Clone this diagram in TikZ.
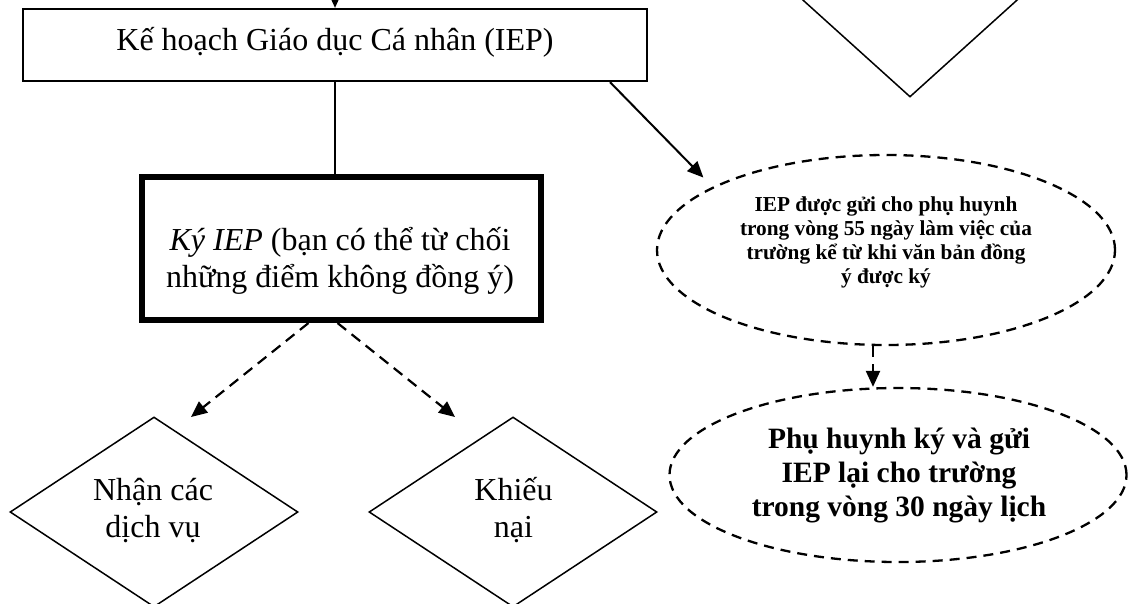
\documentclass[tikz,border=0pt]{standalone}
\usepackage{fontspec}
\setmainfont{Liberation Serif}
\usetikzlibrary{arrows.meta,shapes.geometric}
\begin{document}
\begin{tikzpicture}[x=1pt,y=-1pt,
  box/.style={draw, line width=2.25pt, inner sep=0pt},
  thickbox/.style={draw, line width=6pt, inner sep=0pt},
  dia/.style={draw, diamond, line width=1.5pt, inner sep=0pt},
  dell/.style={draw, ellipse, line width=2.3pt, dash pattern=on 10pt off 7pt, inner sep=0pt},
  arr/.style={line width=2pt, -{Triangle[length=16pt,width=14pt]}},
  darr/.style={line width=2.2pt, dash pattern=on 11pt off 7pt, -{Triangle[length=16pt,width=14pt]}},
  txt/.style={font=\fontsize{32}{37}\selectfont, align=center, inner sep=0pt, anchor=base},
  smallbold/.style={font=\bfseries\fontsize{21.3}{24}\selectfont, align=center, inner sep=0pt, anchor=base},
  bigbold/.style={font=\bfseries\fontsize{29.5}{34}\selectfont, align=center, inner sep=0pt, anchor=base}
]
\useasboundingbox (0,0) rectangle (1129,603);
\clip (0,0) rectangle (1129,603);

% top box
\node[box, minimum width=624pt, minimum height=72pt] (plan) at (335,45) {};
\node[txt] (plantext) at (335,50) {Kế hoạch Giáo dục Cá nhân (IEP)};
\coordinate (topin) at (335,-20);
\draw[arr] (topin) -- (plan.north);

% partially visible diamond at top right
\node[dia, minimum width=288pt, minimum height=260pt] (upper) at (910,-33) {};

% sign box
\node[thickbox, minimum width=399pt, minimum height=143pt] (sign) at (341.5,248.5) {};
\node[txt] (signtext) at (340,287.5) {\textit{Ký IEP} (bạn có thể từ chối\\những điểm không đồng ý)};
\draw[line width=2pt] (plan.south) -- (plan.south |- sign.north);

% ellipses
\node[dell, minimum width=458pt, minimum height=190pt] (sent) at (886,250) {};
\node[smallbold] (senttext) at (886,283) {IEP được gửi cho phụ huynh\\trong vòng 55 ngày làm việc của\\trường kể từ khi văn bản đồng\\ý được ký};
\node[dell, minimum width=457pt, minimum height=174pt] (back) at (898,475) {};
\node[bigbold] (backtext) at (899,516) {Phụ huynh ký và gửi\\IEP lại cho trường\\trong vòng 30 ngày lịch};

\draw[arr, shorten >=13pt] ([xshift=275pt]plan.south) -- (sent.160);
\draw[darr] ([xshift=-13pt]sent.south) -- ([xshift=-25pt]back.north);

% diamonds
\node[dia, minimum width=288pt, minimum height=190pt] (serv) at (154,512) {};
\node[txt] (servtext) at (153,537) {Nhận các\\dịch vụ};
\node[dia, minimum width=288pt, minimum height=190pt] (comp) at (513,512) {};
\node[txt] (comptext) at (513.5,537) {Khiếu\\nại};

\coordinate (tipL) at (191,417);
\coordinate (tipR) at (455,417);
\draw[darr] ([xshift=-33pt]sign.south) -- (tipL);
\draw[darr] ([xshift=-4pt]sign.south) -- (tipR);
\end{tikzpicture}
\end{document}
